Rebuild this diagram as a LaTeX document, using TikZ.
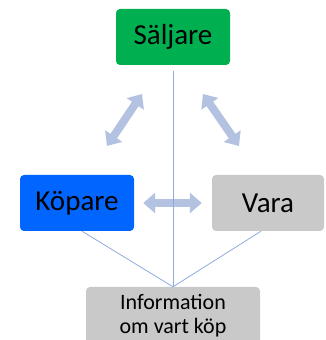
\documentclass[tikz,border=0pt]{standalone}
\usepackage{fontspec}
\setmainfont{Carlito}
\usepackage{tikz}
\usetikzlibrary{calc,positioning,arrows.meta}

\definecolor{saljgron}{HTML}{00B050}
\definecolor{kopblå}{HTML}{0066FF}
\definecolor{varagra}{HTML}{C9C9C9}
\definecolor{pilfarg}{HTML}{B4C2E2}
\definecolor{linjefarg}{HTML}{8FAADC}

\begin{document}
\begin{tikzpicture}[x=1pt, y=1pt,
        ruta/.style={rectangle, rounded corners=4pt, minimum width=114pt, minimum height=56pt, inner sep=0pt, font=\fontsize{29}{34}\selectfont},
        dubbelpil/.style={draw=pilfarg, line width=8pt, {Triangle[width=20pt,length=12pt]}-{Triangle[width=20pt,length=12pt]}},
        tunn/.style={draw=linjefarg, line width=0.8pt}
    ]
        \useasboundingbox (0,0) rectangle (325,340);
        \node[ruta, fill=saljgron] (saljare) at (173,303) {Säljare};
        \node[ruta, fill=kopblå] (kopare) at (77,137) {Köpare};
        \node[ruta, fill=varagra, minimum width=112pt] (vara) at (268,137) {Vara};
        \node[ruta, fill=varagra, minimum width=174pt, minimum height=58pt, font=\fontsize{22}{24}\selectfont, align=center] (info) at (173,24) {Information\\om vart köp};

        % pilar mellan rutorna
        \coordinate (v1) at (107,194);
        \coordinate (v2) at (142,246);
        \coordinate (h1) at (203,246);
        \coordinate (h2) at (239,194);
        \draw[dubbelpil] (v1) -- (v2);
        \draw[dubbelpil] (h1) -- (h2);
        \draw[dubbelpil, shorten <=9pt, shorten >=10pt] (kopare.east) -- (vara.west);

        \draw[tunn] ([yshift=-6pt]saljare.south) -- (info.north);
        \draw[tunn] ([xshift=5pt]kopare.south) -- (info.north);
        \draw[tunn] ([xshift=-7pt]vara.south) -- (info.north);
    \end{tikzpicture}
\end{document}
